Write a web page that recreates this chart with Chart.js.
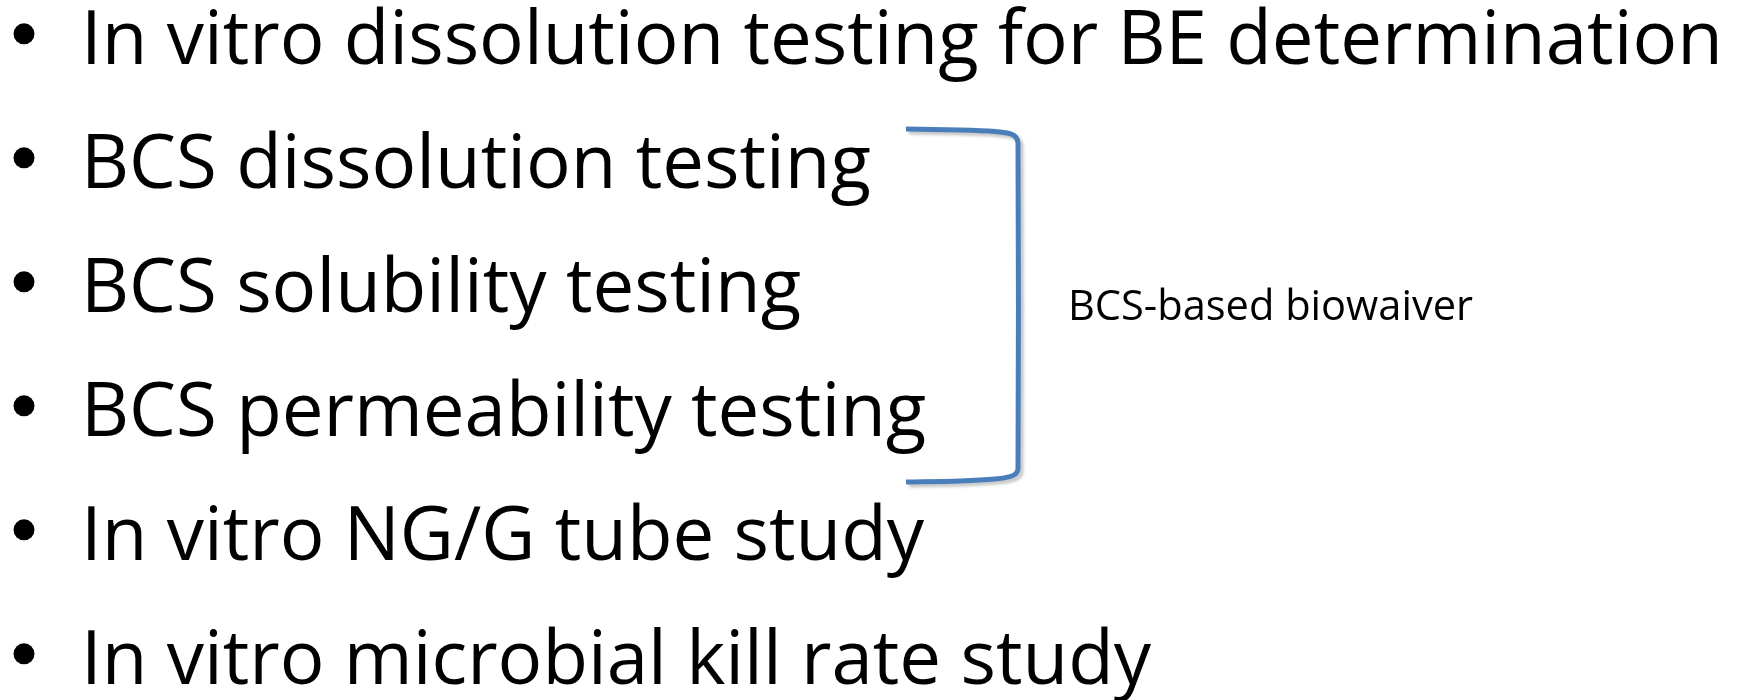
<!DOCTYPE html>
<html>
<head>
<meta charset="utf-8">
<script src="https://cdn.jsdelivr.net/npm/chart.js@4"></script>
<style>
  html, body { margin: 0; padding: 0; background: #fff; }
  #wrap { width: 1737px; height: 700px; }
</style>
</head>
<body>
<div id="wrap"><canvas id="slide"></canvas></div>
<script>
// slide content
const items = [
  'In vitro dissolution testing for BE determination',
  'BCS dissolution testing',
  'BCS solubility testing',
  'BCS permeability testing',
  'In vitro NG/G tube study',
  'In vitro microbial kill rate study'
];
const noteText = 'BCS-based biowaiver';
const noteRow = 2.165;

// bracket round rows 1..3 (x in px units, y in row units)
const bracketX = [906, 960, 995, 1010, 1016, 1018, 1018, 1016, 1010, 995, 960, 906];
const bracketY = [0.742, 0.75, 0.762, 0.78, 0.81, 0.86, 3.48, 3.52, 3.545, 3.565, 3.58, 3.589];

const FONT = '"Open Sans", "Noto Sans", sans-serif';

// size a string so its ink runs from left to right, return size and x offset
function fitInk(ctx, text, left, right) {
  ctx.font = '100px ' + FONT;
  let m = ctx.measureText(text);
  const size = 100 * (right - left) / (m.actualBoundingBoxLeft + m.actualBoundingBoxRight);
  ctx.font = size + 'px ' + FONT;
  m = ctx.measureText(text);
  return {size, dx: m.actualBoundingBoxLeft};
}

const textPlugin = {
  id: 'slideText',
  afterDatasetsDraw(chart) {
    const {ctx, scales: {x, y}} = chart;
    ctx.save();
    ctx.fillStyle = '#000';
    ctx.textBaseline = 'alphabetic';

    const left = x.getPixelForValue(88);
    let fit = fitInk(ctx, items[0], left, x.getPixelForValue(1718));
    let cap = ctx.measureText('I').actualBoundingBoxAscent;
    items.forEach((t, i) => {
      const m = ctx.measureText(t);
      ctx.fillText(t, left + m.actualBoundingBoxLeft, y.getPixelForValue(i) + cap / 2);
    });

    fit = fitInk(ctx, noteText, x.getPixelForValue(1072), x.getPixelForValue(1473));
    cap = ctx.measureText('B').actualBoundingBoxAscent;
    ctx.fillText(noteText, x.getPixelForValue(1072) + fit.dx, y.getPixelForValue(noteRow) + cap / 2);
    ctx.restore();
  }
};

const shadowPlugin = {
  id: 'bracketShadow',
  beforeDatasetDraw(chart, args) {
    if (args.index !== 0) return;
    const ctx = chart.ctx;
    ctx.save();
    ctx.shadowColor = 'rgba(0,0,0,0.22)';
    ctx.shadowBlur = 3;
    ctx.shadowOffsetX = 3;
    ctx.shadowOffsetY = 3;
  },
  afterDatasetDraw(chart, args) {
    if (args.index !== 0) return;
    chart.ctx.restore();
  }
};

function draw() {
  new Chart(document.getElementById('slide'), {
    type: 'scatter',
    data: {
      datasets: [
        {
          label: 'bracket',
          data: bracketX.map((v, i) => ({x: v, y: bracketY[i]})),
          showLine: true,
          borderColor: '#4A7EBB',
          borderWidth: 5,
          pointRadius: 0,
          tension: 0.3,
          borderCapStyle: 'butt',
          borderJoinStyle: 'round'
        },
        {
          label: 'bullets',
          data: items.map((_, i) => ({x: 24, y: i - 0.025})),
          pointRadius: 10.5,
          pointBackgroundColor: '#000',
          pointBorderWidth: 0
        }
      ]
    },
    options: {
      responsive: true,
      maintainAspectRatio: false,
      animation: false,
      layout: {padding: 0, autoPadding: false},
      plugins: {legend: {display: false}, tooltip: {enabled: false}},
      scales: {
        x: {type: 'linear', display: false, min: 0, max: 1737},
        y: {type: 'linear', display: false, reverse: true, min: -0.298, max: 5.347}
      }
    },
    plugins: [shadowPlugin, textPlugin]
  });
}

document.fonts.load('80px "Open Sans"').then(draw, draw);
</script>
</body>
</html>
